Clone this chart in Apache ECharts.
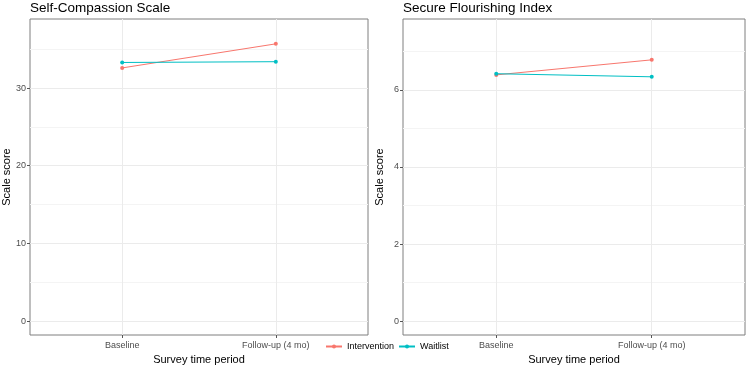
<!DOCTYPE html>
<html>
<head>
<meta charset="utf-8">
<script src="https://cdn.jsdelivr.net/npm/echarts@6/dist/echarts.min.js"></script>
<style>
  html, body { margin: 0; padding: 0; background: #fff; }
  #main { width: 748px; height: 365px; }
</style>
</head>
<body>
<div id="main"></div>
<script>
// survey periods (x categories)
const periods = ['Baseline', 'Follow-up (4 mo)']
const groups = ['Intervention', 'Waitlist']

// Self-Compassion Scale means
const scsIntervention = [32.6, 35.7]
const scsWaitlist = [33.3, 33.4]
const scsTicks = [0, 10, 20, 30]
const scsMinor = [5, 15, 25, 35]

// Secure Flourishing Index means
const sfiIntervention = [6.39, 6.78]
const sfiWaitlist = [6.42, 6.34]
const sfiTicks = [0, 2, 4, 6]
const sfiMinor = [1, 3, 5, 7]

const colors = { Intervention: '#F8766D', Waitlist: '#00BFC4' }
const font = 'Liberation Sans, Arial, sans-serif'

const toPoints = vals => vals.map((v, i) => [i + 1, v])

function xAxisFor(gridIndex) {
  return {
    type: 'value',
    gridIndex,
    min: 0.4,
    max: 2.6,
    name: 'Survey time period',
    nameLocation: 'middle',
    nameGap: 17,
    nameTextStyle: { fontFamily: font, fontSize: 11, color: '#000' },
    axisLine: { show: false, onZero: false },
    axisTick: { show: true, customValues: [1, 2], length: 3, lineStyle: { color: '#555' } },
    axisLabel: {
      customValues: [1, 2],
      margin: 6,
      fontFamily: font,
      fontSize: 9,
      color: '#4d4d4d',
      formatter: v => periods[Math.round(v) - 1] || ''
    },
    splitLine: { show: true, lineStyle: { color: '#ebebeb', width: 1 } }
  }
}

function yAxisFor(gridIndex, min, max, ticks) {
  return {
    type: 'value',
    gridIndex,
    min,
    max,
    name: 'Scale score',
    nameLocation: 'middle',
    nameGap: 18,
    nameTextStyle: { fontFamily: font, fontSize: 11, color: '#000' },
    axisLine: { show: false, onZero: false },
    axisTick: { show: true, customValues: ticks, length: 3, lineStyle: { color: '#555' } },
    axisLabel: { customValues: ticks, margin: 4, fontFamily: font, fontSize: 9, color: '#4d4d4d' },
    splitLine: { show: true, lineStyle: { color: '#ebebeb', width: 1 } }
  }
}

// hidden axis only used to draw the minor grid lines
function minorAxisFor(gridIndex, min, max, ticks) {
  return {
    type: 'value',
    gridIndex,
    min,
    max,
    axisLine: { show: false, onZero: false },
    axisTick: { show: false, customValues: ticks },
    axisLabel: { show: false },
    splitLine: { show: true, lineStyle: { color: '#f4f4f4', width: 1 } }
  }
}

function lineSeries(name, vals, xi, yi) {
  return {
    name,
    type: 'line',
    xAxisIndex: xi,
    yAxisIndex: yi,
    data: toPoints(vals),
    symbol: 'circle',
    symbolSize: 4,
    z: 5,
    itemStyle: { color: colors[name] },
    lineStyle: { color: colors[name], width: 1 },
    emphasis: { disabled: true }
  }
}

const titleStyle = { fontFamily: font, fontSize: 13.5, fontWeight: 'normal', color: '#000' }

const chart = echarts.init(document.getElementById('main'), null, { renderer: 'canvas' })
chart.setOption({
  animation: false,
  backgroundColor: '#fff',
  title: [
    { text: 'Self-Compassion Scale', left: 30, top: 1, padding: 0, textStyle: titleStyle },
    { text: 'Secure Flourishing Index', left: 403, top: 1, padding: 0, textStyle: titleStyle }
  ],
  legend: {
    data: groups,
    left: 325,
    top: 342,
    padding: 0,
    itemWidth: 16,
    itemHeight: 5,
    itemGap: 4,
    textStyle: { fontFamily: font, fontSize: 9, color: '#000' }
  },
  grid: [
    { left: 30, top: 19, width: 338, height: 316, outerBoundsMode: 'none', show: true, borderColor: '#7f7f7f', borderWidth: 1, backgroundColor: 'transparent' },
    { left: 403, top: 19, width: 342, height: 316, outerBoundsMode: 'none', show: true, borderColor: '#7f7f7f', borderWidth: 1, backgroundColor: 'transparent' }
  ],
  xAxis: [xAxisFor(0), xAxisFor(1)],
  yAxis: [
    yAxisFor(0, -1.8, 38.9, scsTicks),
    yAxisFor(1, -0.36, 7.84, sfiTicks),
    minorAxisFor(0, -1.8, 38.9, scsMinor),
    minorAxisFor(1, -0.36, 7.84, sfiMinor)
  ],
  series: [
    lineSeries('Intervention', scsIntervention, 0, 0),
    lineSeries('Waitlist', scsWaitlist, 0, 0),
    lineSeries('Intervention', sfiIntervention, 1, 1),
    lineSeries('Waitlist', sfiWaitlist, 1, 1)
  ]
})
</script>
</body>
</html>
